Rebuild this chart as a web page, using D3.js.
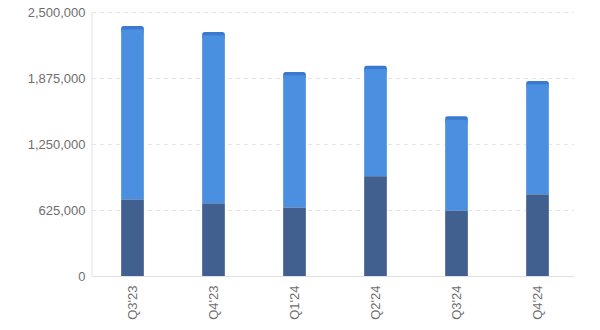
<!DOCTYPE html>
<html>
<head>
<meta charset="utf-8" />
<style>
  body { margin: 0; background: #fff; }
  text { font-family: "Liberation Sans", Arial, sans-serif; }
</style>
</head>
<body>
<script src="https://d3js.org/d3.v7.min.js"></script>
<script>
var quarters = ["Q3'23", "Q4'23", "Q1'24", "Q2'24", "Q3'24", "Q4'24"];
var baseValues = [725000, 688000, 648000, 945000, 618000, 773000];
var midValues = [1610000, 1591000, 1252000, 1015000, 862000, 1042000];
var capValues = [32000, 32000, 32000, 32000, 32000, 32000];
var yTicks = [0, 625000, 1250000, 1875000, 2500000];

var width = 600, height = 330;
var margin = {left: 92, right: 22, top: 12, bottom: 54};

var svg = d3.select("body").append("svg")
    .attr("width", width)
    .attr("height", height);

var x = d3.scaleBand()
    .domain(quarters)
    .range([margin.left, width - margin.right])
    .paddingInner(0.72)
    .paddingOuter(0.36);

var y = d3.scaleLinear()
    .domain([0, 2500000])
    .range([height - margin.bottom, margin.top]);

// grid
svg.append("g")
   .selectAll("line")
   .data(yTicks.slice(1))
   .enter()
   .append("line")
   .attr("x1", margin.left)
   .attr("x2", width - margin.right - 4)
   .attr("y1", d => y(d) + 0.5)
   .attr("y2", d => y(d) + 0.5)
   .attr("stroke", "#e4e4e4")
   .attr("stroke-dasharray", "4,4");

// y axis
var yAxis = d3.axisLeft(y)
    .tickValues(yTicks)
    .tickFormat(d3.format(","))
    .tickSize(0)
    .tickPadding(6);

var yAxisView = svg.append("g")
    .attr("transform", "translate(" + (margin.left - 0.5) + ",0)")
    .call(yAxis);
yAxisView.select(".domain").attr("stroke", "#e0e0e0");
yAxisView.selectAll("text")
    .attr("fill", "#6e6e6e")
    .style("font-size", "13px");

// bars
var bars = svg.append("g");

bars.selectAll("rect.cap")
    .data(quarters)
    .enter()
    .append("rect")
    .attr("class", "cap")
    .attr("x", d => x(d))
    .attr("width", x.bandwidth())
    .attr("y", (d, i) => y(baseValues[i] + midValues[i] + capValues[i]))
    .attr("height", (d, i) => y(0) - y(capValues[i]) + 4)
    .attr("rx", 2.5)
    .attr("fill", "#3b78d0");

bars.selectAll("rect.mid")
    .data(quarters)
    .enter()
    .append("rect")
    .attr("class", "mid")
    .attr("x", d => x(d))
    .attr("width", x.bandwidth())
    .attr("y", (d, i) => y(baseValues[i] + midValues[i]))
    .attr("height", (d, i) => y(baseValues[i]) - y(baseValues[i] + midValues[i]))
    .attr("fill", "#4a8fe0");

bars.selectAll("rect.base")
    .data(quarters)
    .enter()
    .append("rect")
    .attr("class", "base")
    .attr("x", d => x(d))
    .attr("width", x.bandwidth())
    .attr("y", (d, i) => y(baseValues[i]))
    .attr("height", (d, i) => y(0) - y(baseValues[i]))
    .attr("fill", "#42608f");

// x axis
var xAxis = d3.axisBottom(x).tickSize(0).tickPadding(8);
var xAxisView = svg.append("g")
    .attr("transform", "translate(0," + (height - margin.bottom + 0.5) + ")")
    .call(xAxis);
xAxisView.select(".domain")
    .attr("stroke", "#e0e0e0")
    .attr("d", "M" + margin.left + ",0H" + (width - margin.right - 4));
xAxisView.selectAll("text")
    .attr("fill", "#6e6e6e")
    .style("font-size", "13px")
    .attr("transform", "rotate(-90)")
    .attr("text-anchor", "end")
    .attr("x", -9)
    .attr("y", 0)
    .attr("dy", "0.35em");
</script>
</body>
</html>
